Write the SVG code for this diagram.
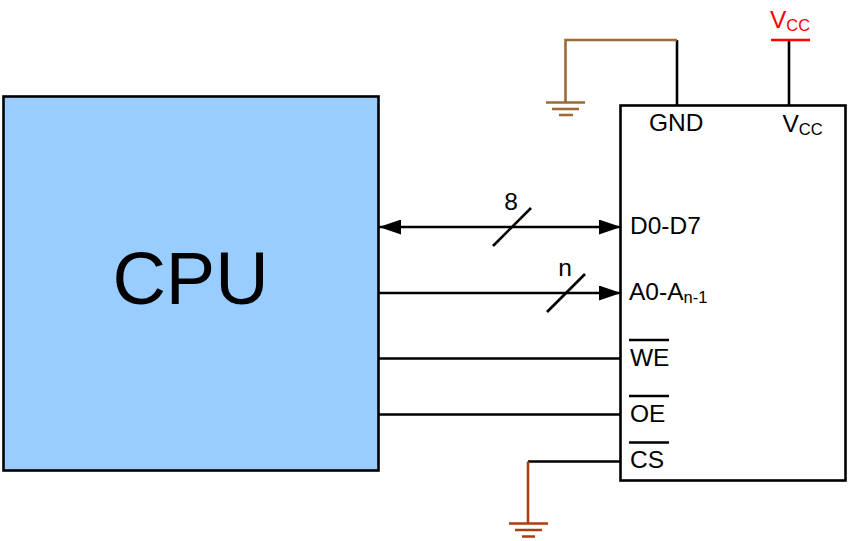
<svg xmlns="http://www.w3.org/2000/svg" width="850" height="541" viewBox="0 0 850 541">
<style>
text{font-family:"Liberation Sans",Arial,sans-serif;fill:#000}
.l{font-size:24.5px}
.s{font-size:16.5px}
.w{fill:none;stroke:#000;stroke-width:2.6}
.b{fill:none;stroke:#9c6a36;stroke-width:2.6}
.r{fill:none;stroke:#a93e0e;stroke-width:2.6}
.red{fill:none;stroke:#f00;stroke-width:2.6}
</style>
<defs>
<marker id="a" markerUnits="userSpaceOnUse" markerWidth="23" markerHeight="15" refX="22" refY="7.500" orient="auto-start-reverse"><path d="M0 0L22 7.500L0 15Z" fill="#000"/></marker>
</defs>
<rect width="850" height="541" fill="#fff"/>
<g id="connectors">
<path class="w" d="M379 227H621" marker-start="url(#a)" marker-end="url(#a)"/>
<path class="w" d="M493 246L531 208"/>
<path class="w" d="M379 293H621" marker-end="url(#a)"/>
<path class="w" d="M547 312L585 274"/>
<path class="w" d="M379 358.500H621"/>
<path class="w" d="M379 414.500H621"/>
<path class="w" d="M528 461.500H621"/>
<path class="r" d="M528 461.500V523"/>
<path class="w" d="M677 40V106"/>
<path class="b" d="M677 40H565.500V102"/>
<path class="w" d="M789 40V106"/>
</g>
<g id="cpu">
<rect x="3.500" y="96.500" width="375" height="374" fill="#99ccff" stroke="#000" stroke-width="2.600"/>
<text x="190.500" y="304" font-size="74" text-anchor="middle">CPU</text>
</g>
<g id="memory">
<rect x="620.500" y="105.500" width="225" height="375" fill="none" stroke="#000" stroke-width="2.600"/>
<text class="l" x="649" y="130.500">GND</text>
<text class="l" x="782.500" y="131.500">V<tspan class="s" dy="3">CC</tspan></text>
<text class="l" x="630" y="234">D0-D7</text>
<text class="l" x="629" y="300">A0-A<tspan class="s" dy="3">n-1</tspan></text>
<text class="l" x="630" y="366">WE</text>
<path class="w" d="M629 340H669"/>
<text class="l" x="630" y="422">OE</text>
<path class="w" d="M629 396H669"/>
<text class="l" x="630" y="468">CS</text>
<path class="w" d="M629 442.500H669"/>
</g>
<g id="label-8"><text class="l" x="511" y="210" text-anchor="middle">8</text></g>
<g id="label-n"><text class="l" x="565" y="276" text-anchor="middle">n</text></g>
<g id="ground-top">
<path class="b" d="M546 102.500H585M552 109H579M559 115H573"/>
</g>
<g id="ground-bottom">
<path class="r" d="M509 523.500H548M515 530H542M522 536.500H535"/>
</g>
<g id="vcc">
<path class="red" d="M771 40H810"/>
<text x="770" y="28" font-size="24.500" style="fill:#f00">V<tspan font-size="16.500" dy="3" style="fill:#f00">CC</tspan></text>
</g>
</svg>
